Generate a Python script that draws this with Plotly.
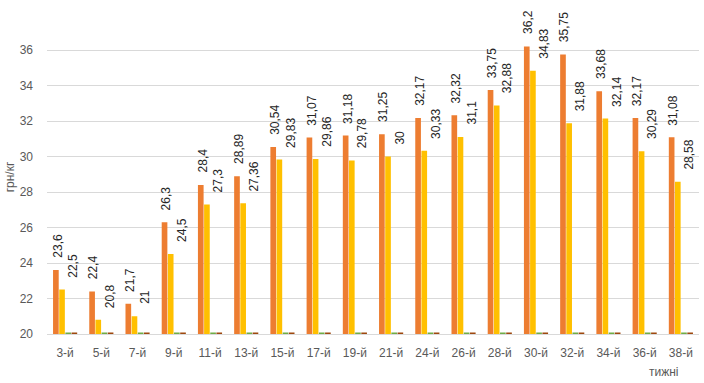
import plotly.graph_objects as go

weeks = ["3-й", "5-й", "7-й", "9-й", "11-й", "13-й", "15-й", "17-й", "19-й",
         "21-й", "24-й", "26-й", "28-й", "30-й", "32-й", "34-й", "36-й", "38-й"]
series_orange = [23.6, 22.4, 21.7, 26.3, 28.4, 28.89, 30.54, 31.07, 31.18,
                 31.25, 32.17, 32.32, 33.75, 36.2, 35.75, 33.68, 32.17, 31.08]
series_yellow = [22.5, 20.8, 21, 24.5, 27.3, 27.36, 29.83, 29.86, 29.78,
                 30, 30.33, 31.1, 32.88, 34.83, 31.88, 32.14, 30.29, 28.58]
series_green = [20.08] * 18
series_brown = [20.08] * 18
y_ticks = [20, 22, 24, 26, 28, 30, 32, 34, 36]


def fmt(v):
    return ("%g" % v).replace(".", ",")


fig = go.Figure()
fig.add_trace(go.Bar(x=weeks, y=series_orange, marker_color="#ED7D31", cliponaxis=False))
fig.add_trace(go.Bar(x=weeks, y=series_yellow, marker_color="#FFC000", cliponaxis=False))
fig.add_trace(go.Bar(x=weeks, y=series_green, marker_color="#70AD47", cliponaxis=False))
fig.add_trace(go.Bar(x=weeks, y=series_brown, marker_color="#9E480E", cliponaxis=False))

label_font = dict(size=12, color="#262626", family="Liberation Sans, Arial, sans-serif")
for series, xs in ((series_orange, -7.5), (series_yellow, 8)):
    for w, v in zip(weeks, series):
        fig.add_annotation(x=w, y=v, xref="x", yref="y", text=fmt(v), textangle=-90,
                           showarrow=False, xanchor="center", yanchor="bottom",
                           xshift=xs, yshift=10, font=label_font)

fig.update_traces(marker_line_width=0)
fig.update_layout(
    width=704, height=383,
    margin=dict(l=47, r=5, t=20, b=49, autoexpand=False),
    paper_bgcolor="white", plot_bgcolor="white",
    barmode="group", bargap=0.32, bargroupgap=0.08,
    showlegend=False,
    font=dict(family="Liberation Sans, Arial, sans-serif", size=12, color="#595959"),
)
fig.update_yaxes(range=[20, 37.69], tickvals=y_ticks, showgrid=True,
                 gridcolor="#D9D9D9", gridwidth=1, zeroline=False,
                 tickfont=dict(size=12, color="#595959"), ticks="", ticklabelstandoff=13,
                 title=dict(text="грн/кг", font=dict(size=12, color="#595959"), standoff=2))
fig.update_xaxes(showline=True, linecolor="#D9D9D9", linewidth=1, ticks="",
                 ticklabelstandoff=8,
                 tickfont=dict(size=12, color="#595959"))
fig.add_annotation(text="тижні", xref="paper", yref="paper", x=0.946, y=-0.092,
                   showarrow=False, font=dict(size=12, color="#595959"),
                   xanchor="center", yanchor="top")
fig.write_html("out.html", config={"displayModeBar": False},
               post_script="document.body.style.margin='0';")
